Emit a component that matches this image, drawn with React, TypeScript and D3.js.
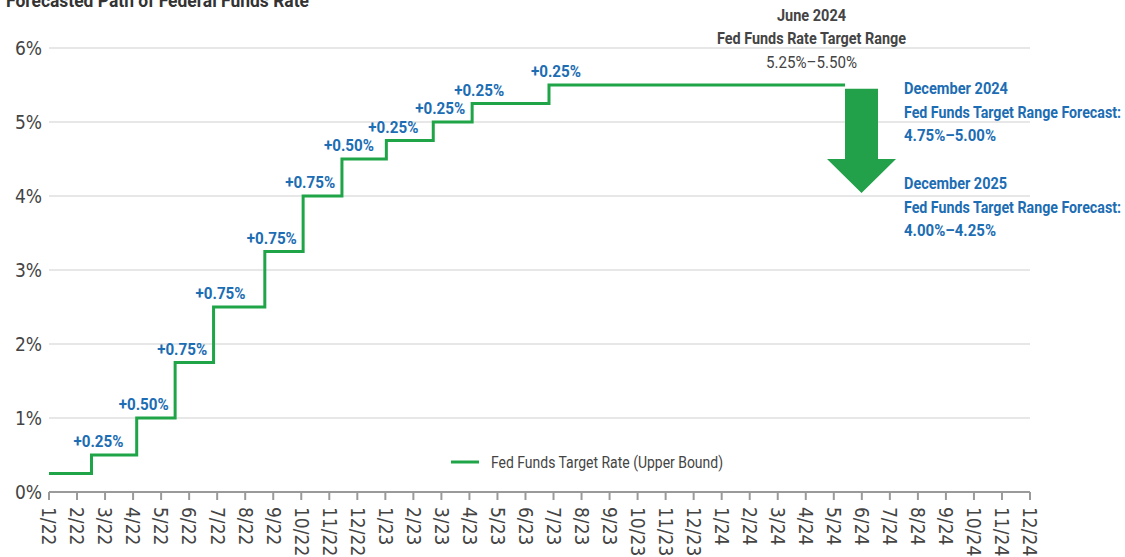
import React from "react"
import * as d3 from "d3"

const width = 1125;
const height = 557;

// tick labels (one per month, tick sits at month end)
const monthLabels = [
  "1/22", "2/22", "3/22", "4/22", "5/22", "6/22", "7/22", "8/22", "9/22", "10/22", "11/22", "12/22",
  "1/23", "2/23", "3/23", "4/23", "5/23", "6/23", "7/23", "8/23", "9/23", "10/23", "11/23", "12/23",
  "1/24", "2/24", "3/24", "4/24", "5/24", "6/24", "7/24", "8/24", "9/24", "10/24", "11/24", "12/24",
];
const yTicks = [0, 1, 2, 3, 4, 5, 6];

// fed funds upper bound, first point is the start of the chart
const rateDates = [
  "2022-01-31", "2022-03-16", "2022-05-04", "2022-06-15", "2022-07-27", "2022-09-21",
  "2022-11-02", "2022-12-14", "2023-02-01", "2023-03-22", "2023-05-03", "2023-07-26",
];
const rates = [0.25, 0.5, 1.0, 1.75, 2.5, 3.25, 4.0, 4.5, 4.75, 5.0, 5.25, 5.5];
const lastDate = "2024-06-12";

// forecast arrow (percent levels)
const arrowFrom = 5.45;
const arrowHeadBase = 4.5;
const arrowTo = 4.04;

const blue = "#1c6db3";
const green = "#1fa548";
const gray = "#444";
const cond = "Roboto, 'DejaVu Sans Condensed', sans-serif";
const tickFont = "'DejaVu Sans Condensed', 'DejaVu Sans', sans-serif";

// month index: 0 = end of Jan 2022
const monthPos = (s: string) => {
  const [yy, mm, dd] = s.split("-").map(Number);
  const days = new Date(yy, mm, 0).getDate();
  return (yy - 2022) * 12 + (mm - 1) - 1 + dd / days;
};

const x = d3.scaleLinear().domain([0, monthLabels.length - 1]).range([49, 1030]);
const y = d3.scaleLinear().domain([0, 6]).range([492, 48]);

const points: [number, number][] = rateDates.map((d, i) => [monthPos(d), rates[i]]);
points.push([monthPos(lastDate), rates[rates.length - 1]]);

const line = d3.line<[number, number]>()
  .x(d => x(d[0]))
  .y(d => y(d[1]))
  .curve(d3.curveStepAfter);

// squeezed text, the reference font is a condensed face
const Fit = ({ x, y, w, children, anchor = "start", ...rest }: any) => (
  <text x={x} y={y} textLength={w} lengthAdjust="spacingAndGlyphs" textAnchor={anchor} {...rest}>
    {children}
  </text>
);

const App = () => {
  const ax = x(monthPos(lastDate));
  const shaftW = 33;
  const headW = 69;
  const cx = ax + shaftW / 2;
  const arrow = [
    [ax, y(arrowFrom)],
    [ax + shaftW, y(arrowFrom)],
    [ax + shaftW, y(arrowHeadBase)],
    [cx + headW / 2, y(arrowHeadBase)],
    [cx, y(arrowTo)],
    [cx - headW / 2, y(arrowHeadBase)],
    [ax, y(arrowHeadBase)],
  ].map(p => p.join(",")).join(" ");

  return (
    <svg width={width} height={height} style={{ position: "absolute", left: 0, top: 0 }}>
      <rect width={width} height={height} fill="#fff" />
      <Fit x={6} y={7} w={303} fontFamily={cond} fontWeight="bold" fontSize={18} fill="#333">
        Forecasted Path of Federal Funds Rate
      </Fit>

      {yTicks.filter(t => t > 0).map(t => (
        <line key={t} x1={x(0)} x2={x(35)} y1={y(t)} y2={y(t)} stroke="#cfcfcf" strokeWidth={1} />
      ))}
      {yTicks.map(t => (
        <text key={t} x={42} y={y(t)} dy="0.35em" textAnchor="end" fontFamily={tickFont} fontSize={19} fill={gray}>
          {t}%
        </text>
      ))}

      <line x1={x(0)} x2={x(35)} y1={y(0)} y2={y(0)} stroke="#9a9a9a" strokeWidth={2} />
      {monthLabels.map((m, i) => (
        <g key={m} transform={`translate(${x(i)},${y(0)})`}>
          <line y1={0} y2={8} stroke="#9a9a9a" strokeWidth={2} />
          <text transform="translate(0,15) rotate(90)" dy="0.35em" fontFamily={tickFont} fontSize={19} fill={gray}>
            {m}
          </text>
        </g>
      ))}

      <path d={line(points) || ""} fill="none" stroke={green} strokeWidth={3} />

      {points.slice(1, -1).map((p, i) => (
        <Fit key={i} x={x(p[0]) + 7} y={y(p[1]) - 8} w={50} anchor="middle"
          fontFamily={cond} fontWeight="bold" fontSize={16} fill={blue}>
          +{(p[1] - points[i][1]).toFixed(2)}%
        </Fit>
      ))}

      <polygon points={arrow} fill="#22a04a" />

      <g fontFamily={cond} fontSize={16} fill={gray}>
        <Fit x={811.5} y={21} w={69} anchor="middle" fontWeight="bold">June 2024</Fit>
        <Fit x={811.5} y={44} w={189} anchor="middle" fontWeight="bold">Fed Funds Rate Target Range</Fit>
        <Fit x={811.5} y={68} w={91} anchor="middle">5.25%–5.50%</Fit>
      </g>

      <g fontFamily={cond} fontSize={16} fill={blue} fontWeight="bold">
        <Fit x={904} y={94} w={104}>December 2024</Fit>
        <Fit x={904} y={118} w={217}>Fed Funds Target Range Forecast:</Fit>
        <Fit x={904} y={141} w={92}>4.75%–5.00%</Fit>
        <Fit x={904} y={189} w={103}>December 2025</Fit>
        <Fit x={904} y={213} w={217}>Fed Funds Target Range Forecast:</Fit>
        <Fit x={904} y={236} w={92}>4.00%–4.25%</Fit>
      </g>

      <line x1={451} x2={479} y1={462} y2={462} stroke={green} strokeWidth={3} />
      <Fit x={491} y={462} w={232} dy="0.35em" fontFamily={cond} fontSize={16} fill={gray}>
        Fed Funds Target Rate (Upper Bound)
      </Fit>
    </svg>
  );
};

export default App
